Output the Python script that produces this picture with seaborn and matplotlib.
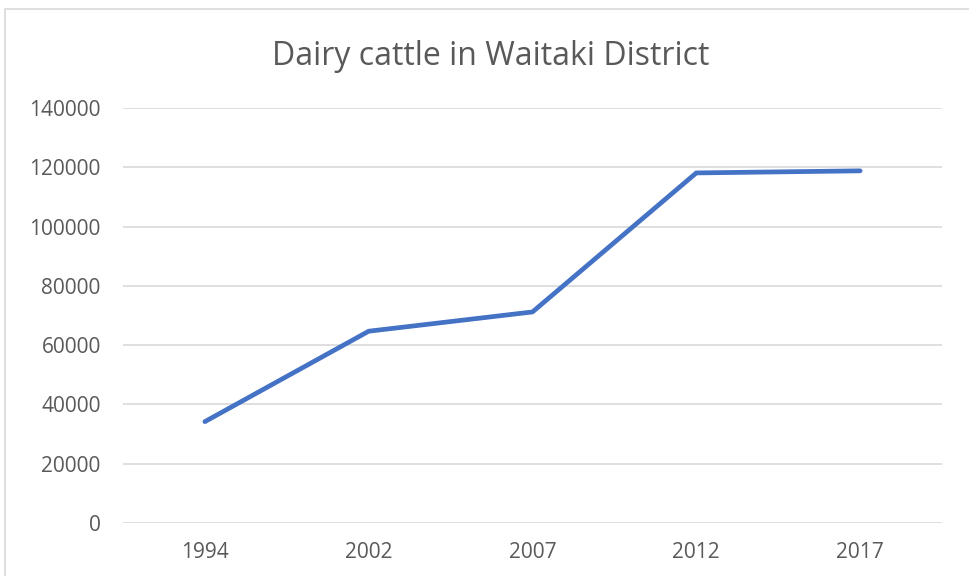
import matplotlib
matplotlib.use("Agg")
import matplotlib.pyplot as plt
import seaborn as sns
import pandas as pd
from matplotlib.patches import Rectangle

years = ["1994", "2002", "2007", "2012", "2017"]
cattle = [34200, 64700, 71200, 118100, 118800]
yticks = [0, 20000, 40000, 60000, 80000, 100000, 120000, 140000]

sns.set_theme(style="white")
plt.rcParams['font.family'] = ['Open Sans', 'DejaVu Sans']

df = pd.DataFrame({"year": years, "cattle": cattle})

fig = plt.figure(figsize=(9.69, 5.76), dpi=100)
ax = fig.add_axes([123/969, 1 - 523/576, (942-123)/969, (523-108)/576])

sns.lineplot(data=df, x="year", y="cattle", ax=ax, color="#4472C4",
             linewidth=3.4, sort=False)
for l in ax.lines:
    l.set_solid_capstyle("round")
    l.set_solid_joinstyle("round")

ax.set_xlim(-0.5, len(years) - 0.5)
ax.set_ylim(0, 140000)
ax.set_yticks(yticks)
ax.set_yticklabels([str(v) for v in yticks])
ax.grid(axis="y", color="#D9D9D9", linewidth=1.2)
ax.set_axisbelow(True)
for s in ax.spines.values():
    s.set_visible(False)
ax.tick_params(axis="both", length=0, labelsize=15, colors="#595959")
ax.tick_params(axis="y", pad=16)
ax.tick_params(axis="x", pad=14)
ax.set_xlabel("")
ax.set_ylabel("")

fig.text(491/969, 1 - 65/576, "Dairy cattle in Waitaki District", ha="center",
         va="baseline", fontsize=23, color="#595959")

fig.patches.append(Rectangle((5/969, -0.1), 1.2, 1 - 9/576 + 0.1,
                             transform=fig.transFigure, fill=False,
                             edgecolor="#D9D9D9", linewidth=1.2))

fig.savefig("out.png", dpi=100)
